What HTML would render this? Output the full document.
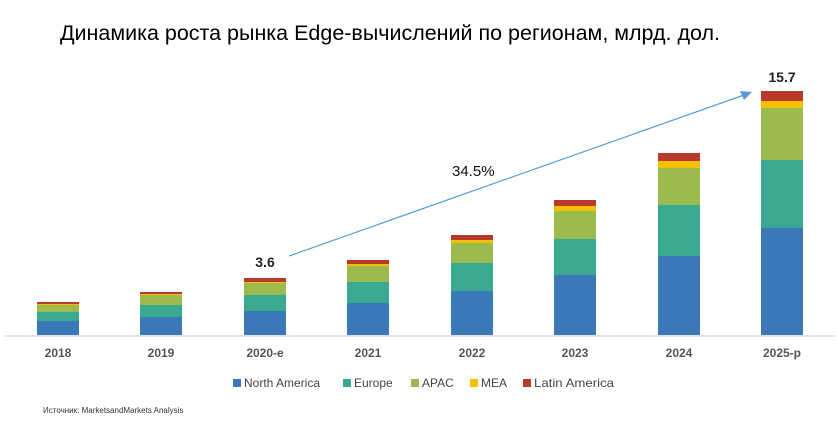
<!DOCTYPE html>
<html><head><meta charset="utf-8"><style>
body{margin:0;background:#fff;width:840px;height:425px;overflow:hidden}
svg{display:block}
</style></head><body>
<svg width="840" height="425" xmlns="http://www.w3.org/2000/svg" font-family="Liberation Sans, DejaVu Sans, sans-serif">
<text x="60" y="40" font-size="21" fill="#000" textLength="660" lengthAdjust="spacingAndGlyphs">Динамика роста рынка Edge-вычислений по регионам, млрд. дол.</text>
<line x1="5" y1="336" x2="835" y2="336" stroke="#d9d9d9" stroke-width="1.5"/>
<g id="bars"></g>
<script>
const bars=[[37,[302,304,305,312,321]],[140,[292,294,295,305,317]],[244,[278,282,283,295,311]],[347,[260,264,266,282,303]],[451,[235,240,243,263,291]],[554,[200,206,211,239,275]],[658,[153,161,168,205,256]],[761,[91,101,108,160,228]]];
const cols=["#b83a2c","#f5c000","#9bbb4f","#3aa991","#3a78b7"];
const g=document.getElementById("bars");
bars.forEach(([x,b])=>{const ys=b.concat([335]);for(let i=0;i<5;i++){const r=document.createElementNS("http://www.w3.org/2000/svg","rect");r.setAttribute("x",x);r.setAttribute("y",ys[i]);r.setAttribute("width",42);r.setAttribute("height",ys[i+1]-ys[i]);r.setAttribute("fill",cols[i]);g.appendChild(r);}});
</script>
<g font-size="12" font-weight="bold" fill="#555" text-anchor="middle">
<text x="58" y="357">2018</text><text x="161" y="357">2019</text><text x="265" y="357">2020-e</text><text x="368" y="357">2021</text>
<text x="472" y="357">2022</text><text x="575" y="357">2023</text><text x="679" y="357">2024</text><text x="782" y="357">2025-p</text>
</g>
<text x="265" y="267" font-size="14" font-weight="bold" text-anchor="middle" fill="#222">3.6</text>
<text x="782" y="82" font-size="14" font-weight="bold" text-anchor="middle" fill="#222">15.7</text>
<line x1="289" y1="256" x2="744" y2="95" stroke="#5b9bd5" stroke-width="1.2"/>
<polygon points="752,92 740,91 744,100" fill="#5b9bd5"/>
<text x="452" y="176" font-size="15" fill="#111">34.5%</text>
<g font-size="12" fill="#444">
<rect x="233" y="379" width="8" height="8" fill="#3a78b7"/><text x="244" y="387">North America</text>
<rect x="343" y="379" width="8" height="8" fill="#3aa991"/><text x="354" y="387">Europe</text>
<rect x="411" y="379" width="8" height="8" fill="#9bbb4f"/><text x="422" y="387">APAC</text>
<rect x="470" y="379" width="8" height="8" fill="#f5c000"/><text x="481" y="387">MEA</text>
<rect x="523" y="379" width="8" height="8" fill="#b83a2c"/><text x="534" y="387" textLength="80" lengthAdjust="spacingAndGlyphs">Latin America</text>
</g>
<text x="43" y="413" font-size="8" fill="#333">Источник: MarketsandMarkets Analysis</text>
</svg>
</body></html>
